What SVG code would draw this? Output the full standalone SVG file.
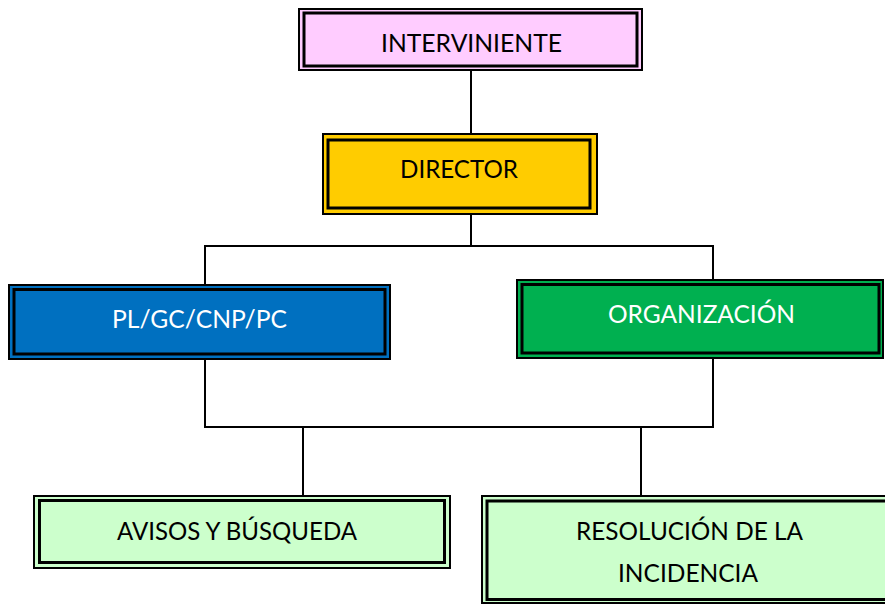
<svg xmlns="http://www.w3.org/2000/svg" width="885" height="605" viewBox="0 0 885 605">
<style>
.o{stroke:#000;stroke-width:2}
.i{fill:none;stroke:#000;stroke-width:3}
.t{font-family:Lato,"Open Sans","Liberation Sans",sans-serif;font-size:25px;text-anchor:middle}
.w{fill:#fff}
.b{fill:#000}
.c{fill:none;stroke:#000;stroke-width:2}
</style>
<rect width="885" height="605" fill="#fff"/>
<g id="connectors">
<path class="c" d="M471 70V134"/>
<path class="c" d="M471 214V246M205 285V246H713V280"/>
<path class="c" d="M205 359V427H713V358"/>
<path class="c" d="M303 427V496M641 427V496"/>
</g>
<g id="interviniente">
<rect class="o" x="299" y="9" width="343" height="61" fill="#FFCCFF"/>
<rect class="i" x="304" y="13" width="333" height="53"/>
<text class="t b" x="471.5" y="52" textLength="181" lengthAdjust="spacingAndGlyphs">INTERVINIENTE</text>
</g>
<g id="director">
<rect class="o" x="323" y="134" width="274" height="80" fill="#FFCC00"/>
<rect class="i" x="328" y="140" width="262" height="68"/>
<text class="t b" x="459" y="178" textLength="118" lengthAdjust="spacingAndGlyphs">DIRECTOR</text>
</g>
<g id="pl">
<rect class="o" x="9" y="285" width="381" height="74" fill="#0070C0"/>
<rect class="i" x="14" y="289.5" width="371" height="64.5"/>
<text class="t w" x="199.5" y="328" textLength="175" lengthAdjust="spacingAndGlyphs">PL/GC/CNP/PC</text>
</g>
<g id="organizacion">
<rect class="o" x="517" y="280" width="366" height="78" fill="#00B050"/>
<rect class="i" x="522" y="284.5" width="357" height="68.5"/>
<text class="t w" x="701.5" y="323" textLength="187" lengthAdjust="spacingAndGlyphs">ORGANIZACIÓN</text>
</g>
<g id="avisos">
<rect class="o" x="34" y="496" width="416" height="72" fill="#CCFFCC"/>
<rect class="i" x="39.5" y="500.5" width="405" height="62"/>
<text class="t b" x="237" y="540" textLength="240" lengthAdjust="spacingAndGlyphs">AVISOS Y BÚSQUEDA</text>
</g>
<g id="resolucion">
<rect class="o" x="482" y="496" width="410" height="107" fill="#CCFFCC"/>
<rect class="i" x="487" y="501" width="405" height="98.5"/>
<text class="t b" x="689.5" y="540" textLength="227" lengthAdjust="spacingAndGlyphs">RESOLUCIÓN DE LA</text>
<text class="t b" x="688" y="582" textLength="140" lengthAdjust="spacingAndGlyphs">INCIDENCIA</text>
</g>
</svg>
